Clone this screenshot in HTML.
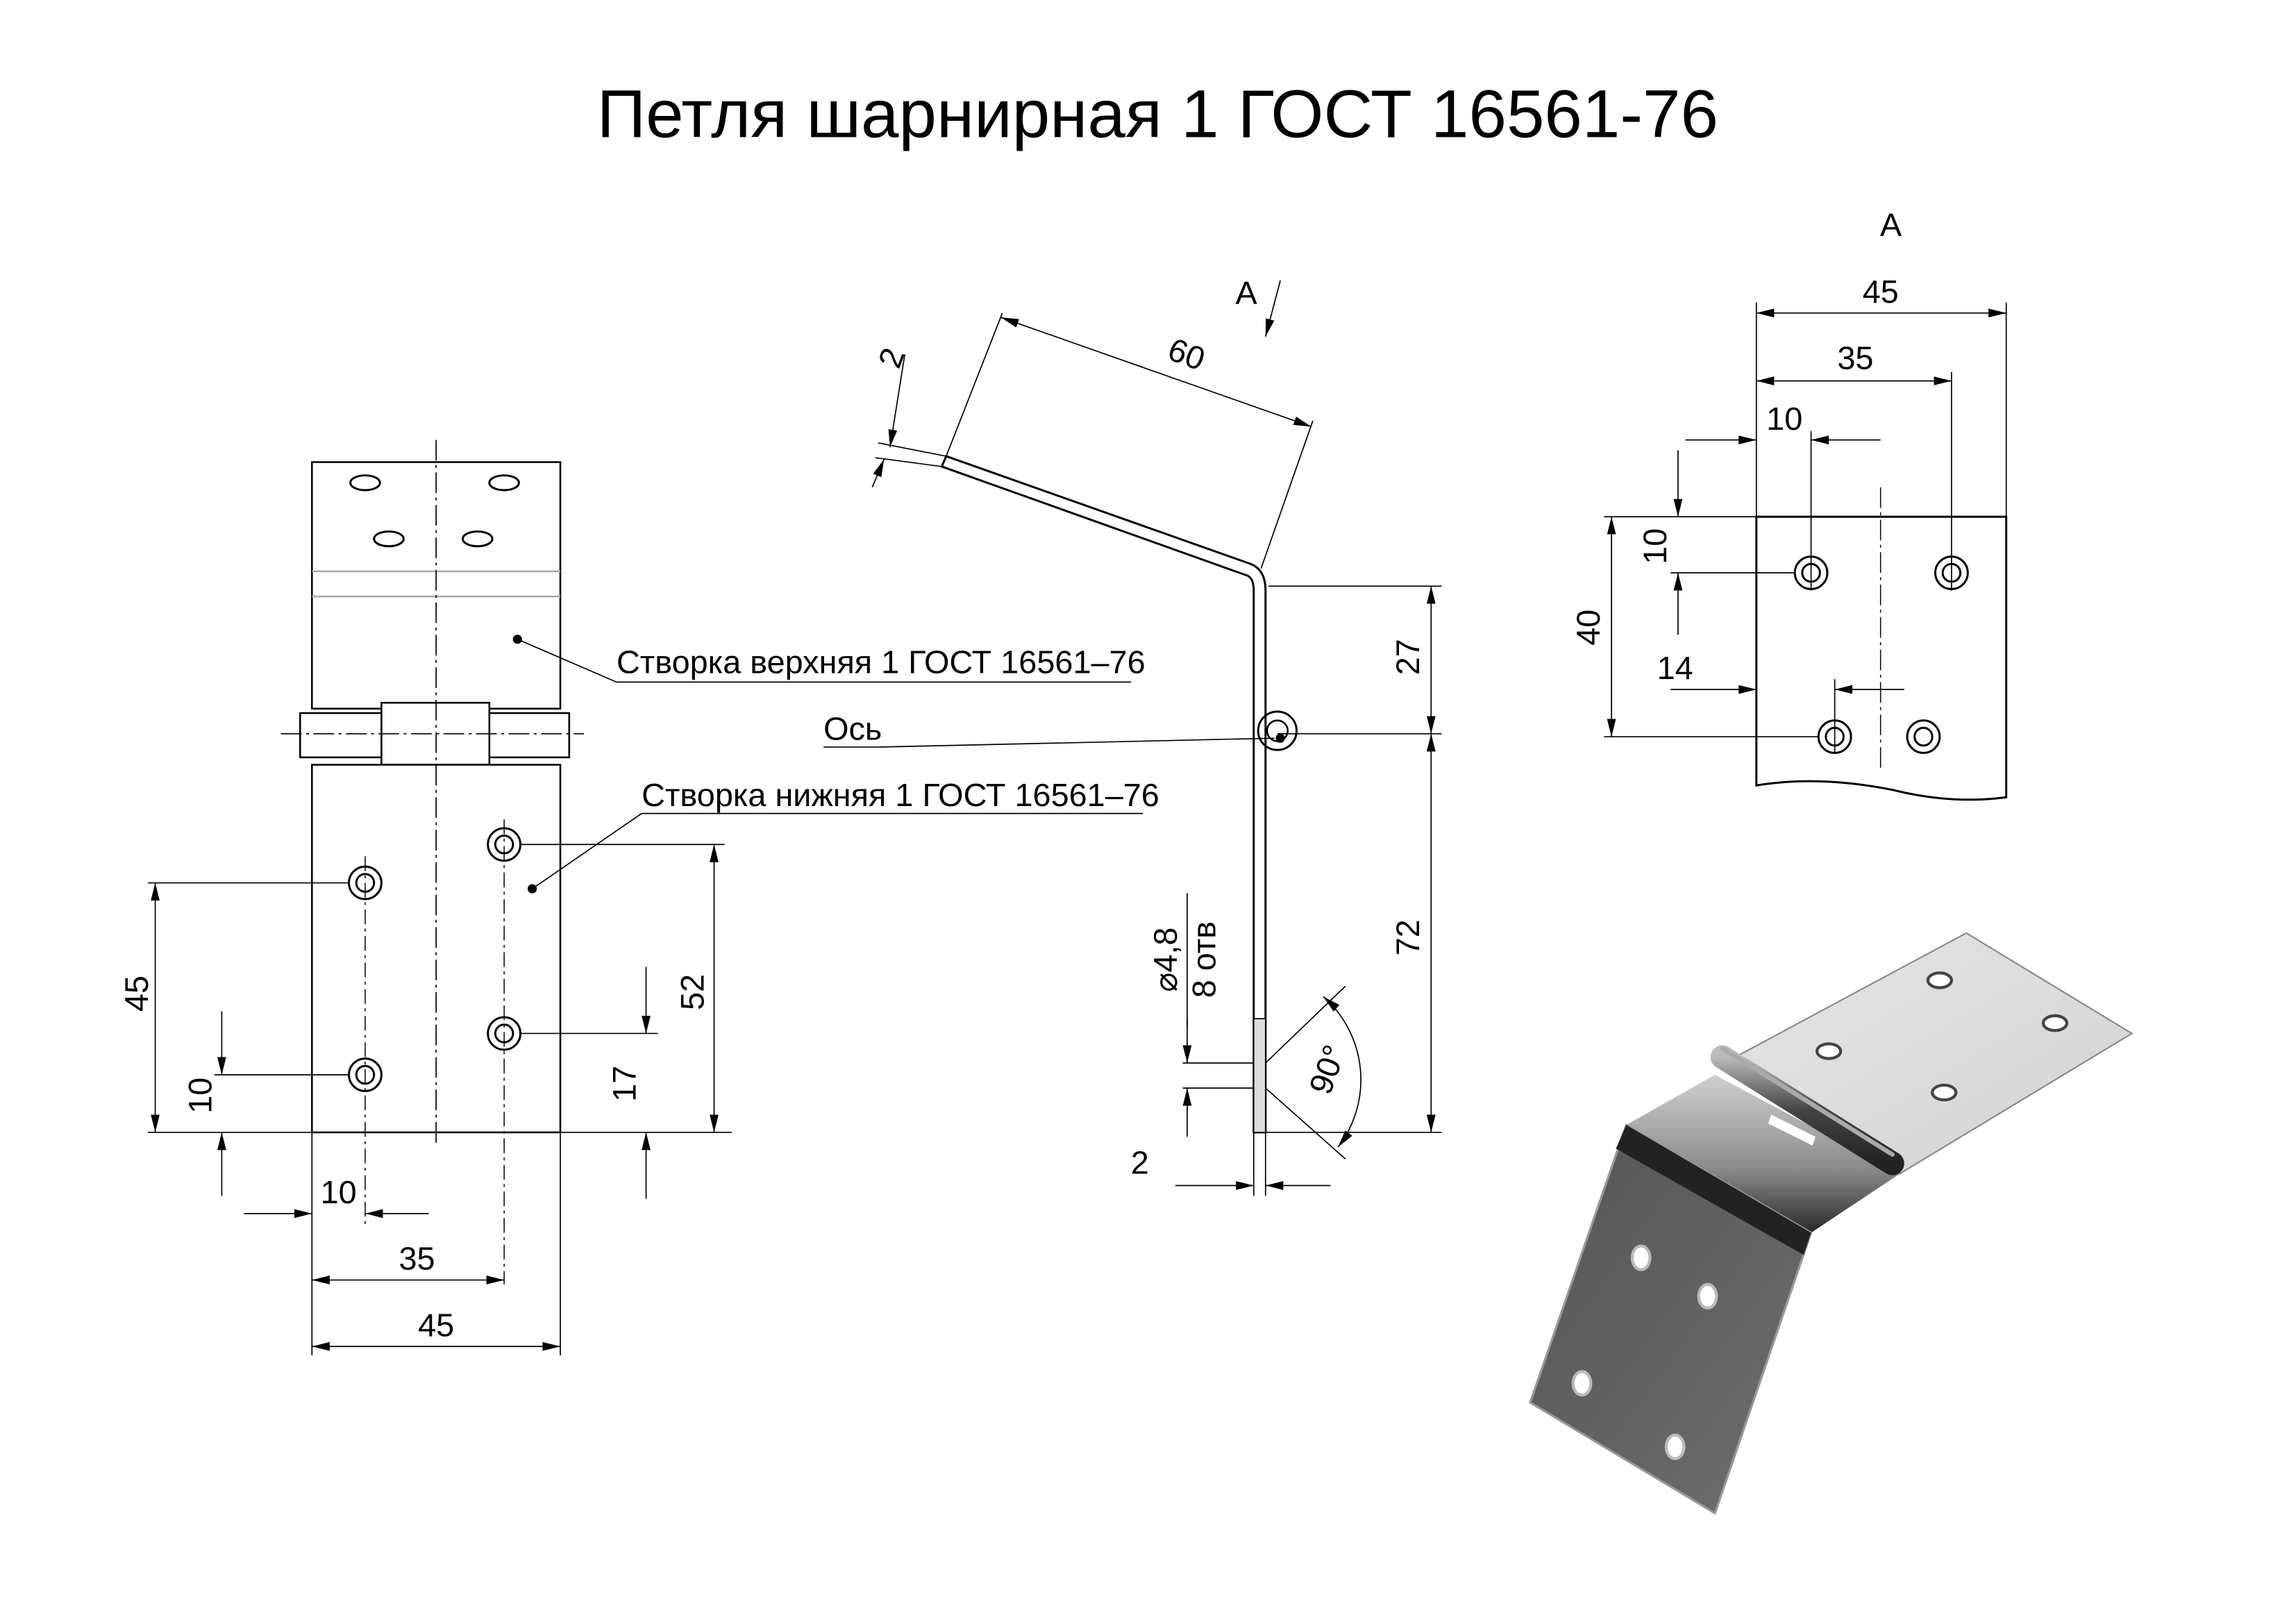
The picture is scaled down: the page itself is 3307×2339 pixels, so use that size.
<!DOCTYPE html>
<html><head><meta charset="utf-8"><style>
html,body{margin:0;padding:0;background:#fff}
svg{display:block}
text{font-family:"Liberation Sans","DejaVu Sans",sans-serif;fill:#000}
.d{font-family:"DejaVu Sans Condensed","Liberation Sans Narrow","Liberation Sans",sans-serif;font-size:22px}
</style></head><body>
<svg width="3307" height="2339" viewBox="0 0 1553 1100" preserveAspectRatio="none" xmlns="http://www.w3.org/2000/svg">
<defs>
<marker id="a" viewBox="0 0 12 6" refX="12" refY="3" markerWidth="12" markerHeight="6" markerUnits="userSpaceOnUse" orient="auto-start-reverse"><path d="M0,0L12,3L0,6z" fill="#000"/></marker>
<linearGradient id="g1" x1="0" y1="0" x2="1" y2="1"><stop offset="0" stop-color="#e6e6e6"/><stop offset="1" stop-color="#d2d2d2"/></linearGradient>
<linearGradient id="g2" x1="0" y1="0" x2="1" y2="1"><stop offset="0" stop-color="#555"/><stop offset="1" stop-color="#6e6e6e"/></linearGradient>
<linearGradient id="g3" x1="0" y1="0" x2="0" y2="1"><stop offset="0" stop-color="#d0d0d0"/><stop offset="0.6" stop-color="#8a8a8a"/><stop offset="1" stop-color="#2a2a2a"/></linearGradient>
<linearGradient id="gk" x1="0" y1="0" x2="0" y2="1"><stop offset="0" stop-color="#bbb"/><stop offset="0.5" stop-color="#444"/><stop offset="1" stop-color="#222"/></linearGradient>
</defs>
<text x="783" y="93" font-size="46" text-anchor="middle">Петля шарнирная 1 ГОСТ 16561-76</text>

<g stroke="#000" fill="none" stroke-width="1.2">
<rect x="211" y="313" width="168" height="167"/>
<line x1="211" y1="387" x2="379" y2="387" stroke="#aaa"/>
<line x1="211" y1="404" x2="379" y2="404" stroke="#aaa"/>
<rect x="203" y="483" width="182" height="30"/>
<rect x="258" y="476" width="73" height="42" fill="#fff"/>
<rect x="211" y="518" width="168" height="249" fill="#fff"/>
<line x1="295" y1="298" x2="295" y2="775" stroke-dasharray="14,3,2,3" stroke-width="0.8"/>
<line x1="190" y1="497" x2="395" y2="497" stroke-dasharray="14,3,2,3" stroke-width="0.8"/>
<g stroke-width="1.4">
<ellipse cx="247" cy="327" rx="10" ry="5"/><ellipse cx="341" cy="327" rx="10" ry="5"/>
<ellipse cx="263" cy="365" rx="10" ry="5"/><ellipse cx="323" cy="365" rx="10" ry="5"/>
<circle cx="247" cy="598" r="11"/><circle cx="247" cy="598" r="6"/>
<circle cx="341" cy="572" r="11"/><circle cx="341" cy="572" r="6"/>
<circle cx="247" cy="728" r="11"/><circle cx="247" cy="728" r="6"/>
<circle cx="341" cy="700" r="11"/><circle cx="341" cy="700" r="6"/>
</g>
<line x1="247" y1="580" x2="247" y2="830" stroke-width="0.7" stroke-dasharray="10,3,2,3"/>
<line x1="341" y1="555" x2="341" y2="870" stroke-width="0.7" stroke-dasharray="10,3,2,3"/>
<g stroke-width="0.8">
<line x1="100" y1="598" x2="236" y2="598"/><line x1="100" y1="767" x2="495" y2="767"/>
<line x1="145" y1="728" x2="236" y2="728"/>
<line x1="352" y1="572" x2="490" y2="572"/><line x1="352" y1="700" x2="445" y2="700"/>
<line x1="211" y1="767" x2="211" y2="918"/><line x1="379" y1="767" x2="379" y2="918"/>
<line x1="105" y1="598" x2="105" y2="767" marker-start="url(#a)" marker-end="url(#a)"/>
<line x1="150" y1="685" x2="150" y2="728" marker-end="url(#a)"/><line x1="150" y1="810" x2="150" y2="767" marker-end="url(#a)"/>
<line x1="483" y1="572" x2="483" y2="767" marker-start="url(#a)" marker-end="url(#a)"/>
<line x1="437" y1="655" x2="437" y2="700" marker-end="url(#a)"/><line x1="437" y1="812" x2="437" y2="767" marker-end="url(#a)"/>
<line x1="165" y1="822" x2="211" y2="822" marker-end="url(#a)"/><line x1="290" y1="822" x2="247" y2="822" marker-end="url(#a)"/>
<line x1="211" y1="867" x2="341" y2="867" marker-start="url(#a)" marker-end="url(#a)"/>
<line x1="211" y1="912" x2="379" y2="912" marker-start="url(#a)" marker-end="url(#a)"/>
<line x1="350" y1="433" x2="417" y2="462"/><line x1="417" y1="462" x2="765" y2="462"/>
<line x1="360" y1="602" x2="434" y2="551"/><line x1="434" y1="551" x2="773" y2="551"/>
<line x1="557" y1="506" x2="595" y2="506"/><line x1="595" y1="506" x2="862" y2="500"/>
</g>
<circle cx="350" cy="433" r="2.5" fill="#000"/><circle cx="360" cy="602" r="2.5" fill="#000"/><circle cx="866" cy="500" r="2.5" fill="#000"/>

<path d="M637,316 L844,390 Q848,392 848,400 L848,767 L856,767 L856,400 Q856,386 846,382 L640,309 Z" stroke-width="1.4"/>
<circle cx="864" cy="495" r="13" stroke-width="1.4"/><circle cx="864" cy="495" r="7"/>
<rect x="848" y="690" width="8" height="77" fill="#ddd" stroke-width="0.8"/>
<g stroke-width="0.8">
<line x1="640" y1="309" x2="678" y2="212"/><line x1="853" y1="385" x2="888" y2="285"/>
<line x1="677" y1="215" x2="887" y2="289" marker-start="url(#a)" marker-end="url(#a)"/>
<line x1="612" y1="240" x2="602" y2="303" marker-end="url(#a)"/><line x1="590" y1="330" x2="598" y2="311" marker-end="url(#a)"/>
<line x1="594" y1="300" x2="640" y2="309"/><line x1="592" y1="310" x2="637" y2="316"/>
<line x1="858" y1="397" x2="975" y2="397"/><line x1="864" y1="497" x2="975" y2="497"/><line x1="856" y1="767" x2="975" y2="767"/>
<line x1="968" y1="397" x2="968" y2="497" marker-start="url(#a)" marker-end="url(#a)"/>
<line x1="968" y1="497" x2="968" y2="767" marker-start="url(#a)" marker-end="url(#a)"/>
<line x1="848" y1="767" x2="848" y2="810"/><line x1="856" y1="767" x2="856" y2="810"/>
<line x1="795" y1="803" x2="848" y2="803" marker-end="url(#a)"/><line x1="900" y1="803" x2="856" y2="803" marker-end="url(#a)"/>
<line x1="800" y1="720" x2="848" y2="720"/><line x1="800" y1="737" x2="848" y2="737"/>
<line x1="803" y1="690" x2="803" y2="720" marker-end="url(#a)"/><line x1="803" y1="770" x2="803" y2="737" marker-end="url(#a)"/>
<line x1="856" y1="720" x2="910" y2="668"/><line x1="856" y1="737" x2="910" y2="785"/>
<path d="M895,675 A75,75 0 0 1 905,777" marker-start="url(#a)" marker-end="url(#a)"/>
<line x1="866" y1="190" x2="856" y2="228" marker-end="url(#a)"/>
</g>

<path d="M1188,350 L1357,350 L1357,540 Q1320,545 1280,535 Q1230,525 1188,532 Z" stroke-width="1.4"/>
<line x1="1272" y1="330" x2="1272" y2="520" stroke-dasharray="14,3,2,3" stroke-width="0.7"/>
<g stroke-width="1.4">
<circle cx="1225" cy="388" r="11"/><circle cx="1225" cy="388" r="6"/>
<circle cx="1320" cy="388" r="11"/><circle cx="1320" cy="388" r="6"/>
<circle cx="1241" cy="499" r="11"/><circle cx="1241" cy="499" r="6"/>
<circle cx="1301" cy="499" r="11"/><circle cx="1301" cy="499" r="6"/>
</g>
<g stroke-width="0.8">
<line x1="1188" y1="205" x2="1188" y2="350"/><line x1="1357" y1="205" x2="1357" y2="350"/>
<line x1="1320" y1="252" x2="1320" y2="400"/><line x1="1225" y1="292" x2="1225" y2="400"/>
<line x1="1241" y1="460" x2="1241" y2="510"/>
<line x1="1188" y1="212" x2="1357" y2="212" marker-start="url(#a)" marker-end="url(#a)"/>
<line x1="1188" y1="258" x2="1320" y2="258" marker-start="url(#a)" marker-end="url(#a)"/>
<line x1="1140" y1="298" x2="1188" y2="298" marker-end="url(#a)"/><line x1="1272" y1="298" x2="1225" y2="298" marker-end="url(#a)"/>
<line x1="1085" y1="350" x2="1188" y2="350"/><line x1="1085" y1="499" x2="1230" y2="499"/><line x1="1130" y1="388" x2="1214" y2="388"/>
<line x1="1090" y1="350" x2="1090" y2="499" marker-start="url(#a)" marker-end="url(#a)"/>
<line x1="1135" y1="305" x2="1135" y2="350" marker-end="url(#a)"/><line x1="1135" y1="430" x2="1135" y2="388" marker-end="url(#a)"/>
<line x1="1130" y1="467" x2="1188" y2="467" marker-end="url(#a)"/><line x1="1288" y1="467" x2="1241" y2="467" marker-end="url(#a)"/>
</g>
</g>

<!-- 3D render -->
<polygon points="1170,718 1330,632 1442,700 1285,795" fill="url(#g1)" stroke="#888" stroke-width="1"/>
<polygon points="1100,762 1160,728 1285,795 1225,835" fill="url(#g3)"/>
<polygon points="1100,762 1225,835 1160,1025 1035,950" fill="url(#g2)" stroke="#999" stroke-width="1.5"/>
<polygon points="1100,762 1225,835 1220,850 1093,778" fill="#222"/>
<line x1="1165" y1="716" x2="1280" y2="788" stroke="url(#gk)" stroke-width="16" stroke-linecap="round"/>
<line x1="1165" y1="710" x2="1280" y2="782" stroke="#aaa" stroke-width="3" stroke-linecap="round"/>
<polygon points="1198,755 1228,770 1226,776 1196,761" fill="#fff"/>
<g fill="#fff" stroke="#444" stroke-width="2">
<ellipse cx="1312" cy="664" rx="8" ry="5"/><ellipse cx="1390" cy="693" rx="8" ry="5"/>
<ellipse cx="1237" cy="712" rx="8" ry="5"/><ellipse cx="1315" cy="740" rx="8" ry="5"/>
</g>
<g fill="#fff" stroke="#bbb" stroke-width="2">
<ellipse cx="1110" cy="852" rx="6" ry="8"/><ellipse cx="1155" cy="878" rx="6" ry="8"/>
<ellipse cx="1070" cy="937" rx="6" ry="8"/><ellipse cx="1133" cy="980" rx="6" ry="8"/>
</g>

<g class="d">
<text x="417" y="456">Створка верхняя 1 ГОСТ 16561–76</text>
<text x="434" y="546">Створка нижняя 1 ГОСТ 16561–76</text>
<text x="557" y="501">Ось</text>
<text x="100" y="673" transform="rotate(-90 100 673)" text-anchor="middle">45</text>
<text x="143" y="742" transform="rotate(-90 143 742)" text-anchor="middle">10</text>
<text x="476" y="672" transform="rotate(-90 476 672)" text-anchor="middle">52</text>
<text x="430" y="734" transform="rotate(-90 430 734)" text-anchor="middle">17</text>
<text x="229" y="815" text-anchor="middle">10</text>
<text x="282" y="860" text-anchor="middle">35</text>
<text x="295" y="905" text-anchor="middle">45</text>
<text x="800" y="247" transform="rotate(20 800 247)" text-anchor="middle">60</text>
<text x="610" y="245" transform="rotate(-70 610 245)" text-anchor="middle">2</text>
<text x="843" y="206" text-anchor="middle">A</text>
<text x="960" y="445" transform="rotate(-90 960 445)" text-anchor="middle">27</text>
<text x="960" y="635" transform="rotate(-90 960 635)" text-anchor="middle">72</text>
<text x="796" y="650" transform="rotate(-90 796 650)" text-anchor="middle">⌀4,8</text>
<text x="822" y="650" transform="rotate(-90 822 650)" text-anchor="middle">8 отв</text>
<line x1="803" y1="605" x2="803" y2="695" stroke="#000" stroke-width="0.8"/>
<text x="905" y="727" transform="rotate(-70 905 727)" text-anchor="middle">90°</text>
<text x="771" y="795" text-anchor="middle">2</text>
<text x="1279" y="160" text-anchor="middle">A</text>
<text x="1272" y="205" text-anchor="middle">45</text>
<text x="1255" y="250" text-anchor="middle">35</text>
<text x="1207" y="291" text-anchor="middle">10</text>
<text x="1082" y="425" transform="rotate(-90 1082 425)" text-anchor="middle">40</text>
<text x="1127" y="370" transform="rotate(-90 1127 370)" text-anchor="middle">10</text>
<text x="1133" y="460" text-anchor="middle">14</text>
</g>
</svg>
</body></html>
